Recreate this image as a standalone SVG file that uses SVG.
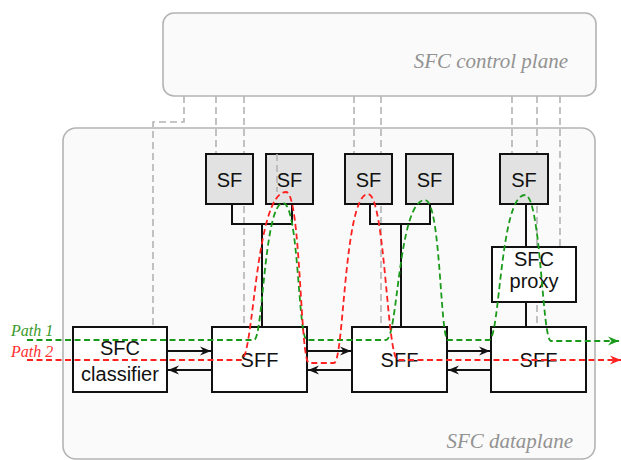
<svg xmlns="http://www.w3.org/2000/svg" width="621" height="460" viewBox="0 0 621 460">
<defs>
<style>
.plane{fill:#fafafa;stroke:#b4b4b4;stroke-width:1.6}
.ctl{fill:none;stroke:#b4b4b4;stroke-width:1.6;stroke-dasharray:7 4}
.sf{fill:#e2e2e2;stroke:#111;stroke-width:2}
.box{fill:#fff;stroke:#111;stroke-width:2}
.wire{fill:none;stroke:#111;stroke-width:2}
.arr{fill:none;stroke:#111;stroke-width:1.8;marker-end:url(#stealth)}
.lbl{font-family:"Liberation Sans",Arial,sans-serif;font-size:20px;fill:#111;text-anchor:middle}
.plbl{font-family:"Liberation Serif","Times New Roman",serif;font-style:italic;font-size:21px;fill:#929292;text-anchor:end}
.path1{fill:none;stroke:#1a9a1a;stroke-width:1.8;stroke-dasharray:6 3.5}
.path2{fill:none;stroke:#ff2020;stroke-width:1.8;stroke-dasharray:6 3.5}
.pname{font-family:"Liberation Serif","Times New Roman",serif;font-style:italic;font-size:16px}
</style>
<marker id="stealth" viewBox="-11 -5 12 10" refX="0" refY="0" markerWidth="12" markerHeight="10" markerUnits="userSpaceOnUse" orient="auto">
<path d="M0,0 L-11,-4.5 L-7.5,0 L-11,4.5 Z" fill="#111"/>
</marker>
<marker id="gstealth" viewBox="-11 -5 12 10" refX="0" refY="0" markerWidth="12" markerHeight="10" markerUnits="userSpaceOnUse" orient="auto">
<path d="M0,0 L-11,-4.5 L-7.5,0 L-11,4.5 Z" fill="#1a9a1a"/>
</marker>
<marker id="rstealth" viewBox="-11 -5 12 10" refX="0" refY="0" markerWidth="12" markerHeight="10" markerUnits="userSpaceOnUse" orient="auto">
<path d="M0,0 L-11,-4.5 L-7.5,0 L-11,4.5 Z" fill="#ff2020"/>
</marker>
</defs>

<g id="control-plane">
<rect class="plane" x="163" y="13" width="433" height="83" rx="11"/>
<text class="plbl" x="568" y="68">SFC control plane</text>
</g>
<g id="dataplane">
<rect class="plane" x="63" y="128" width="532" height="331" rx="13"/>
<text class="plbl" x="573" y="448">SFC dataplane</text>
</g>

<g id="control-links">
<path class="ctl" d="M184,96 V122 H153 V327"/>
<path class="ctl" d="M216,96 V154"/>
<path class="ctl" d="M244,96 V327"/>
<path class="ctl" d="M354,96 V154"/>
<path class="ctl" d="M381,96 V327"/>
<path class="ctl" d="M512,96 V154"/>
<path class="ctl" d="M537,96 V327"/>
<path class="ctl" d="M560,96 V247"/>
</g>

<g id="sf-wires">
<path class="wire" d="M232,204 V224 H292 V204"/>
<path class="wire" d="M262,224 V327"/>
<path class="wire" d="M370,204 V224 H430 V204"/>
<path class="wire" d="M401,224 V327"/>
<path class="wire" d="M526,204 V247"/>
<path class="wire" d="M526,302 V327"/>
</g>

<g id="sf1"><rect class="sf" x="206" y="154" width="47" height="50"/><text class="lbl" x="229.5" y="187">SF</text></g>
<g id="sf2"><rect class="sf" x="266" y="154" width="47" height="50"/><text class="lbl" x="289.5" y="187">SF</text></g>
<path class="ctl" d="M277,154 V192"/>
<g id="sf3"><rect class="sf" x="345" y="154" width="47" height="50"/><text class="lbl" x="368.5" y="187">SF</text></g>
<g id="sf4"><rect class="sf" x="406" y="154" width="47" height="50"/><text class="lbl" x="429.5" y="187">SF</text></g>
<g id="sf5"><rect class="sf" x="500" y="154" width="48" height="50"/><text class="lbl" x="524" y="187">SF</text></g>

<g id="proxy"><rect class="box" x="492" y="247" width="84" height="55"/><text class="lbl" x="534" y="266">SFC</text><text class="lbl" x="534" y="288">proxy</text></g>

<g id="classifier"><rect class="box" x="73" y="327" width="94" height="65"/><text class="lbl" x="120" y="355">SFC</text><text class="lbl" x="120" y="381">classifier</text></g>
<g id="sff1"><rect class="box" x="212" y="327" width="95" height="65"/><text class="lbl" x="259.5" y="367">SFF</text></g>
<g id="sff2"><rect class="box" x="352" y="327" width="95" height="65"/><text class="lbl" x="399.5" y="367">SFF</text></g>
<g id="sff3"><rect class="box" x="491" y="327" width="95" height="65"/><text class="lbl" x="538.5" y="367">SFF</text></g>

<g id="connectors">
<path class="arr" d="M167,351 H211"/>
<path class="arr" d="M212,370 H168"/>
<path class="arr" d="M307,351 H351"/>
<path class="arr" d="M352,370 H308"/>
<path class="arr" d="M447,351 H490"/>
<path class="arr" d="M491,370 H448"/>
</g>

<g id="paths">
<path class="path1" marker-end="url(#gstealth)" d="M27,340 H254 C263,340 264,203 283,203 C299,203 298,340 307,340 H386 C398,340 398,200 425,200 C441,200 440,340 448,340 H489 C500,340 500,195 525,195 C541,195 542,341 551,341 H619"/>
<path class="path2" marker-end="url(#rstealth)" d="M27,360 H241 C254,360 255,192 286,192 C301,192 300,363 309,363 H334 C344,363 344,194 368,194 C385,194 387,360 398,360 H621"/>
<text class="pname" x="11" y="336" fill="#3a9a2a">Path 1</text>
<text class="pname" x="11" y="357" fill="#ff3030">Path 2</text>
</g>
</svg>
